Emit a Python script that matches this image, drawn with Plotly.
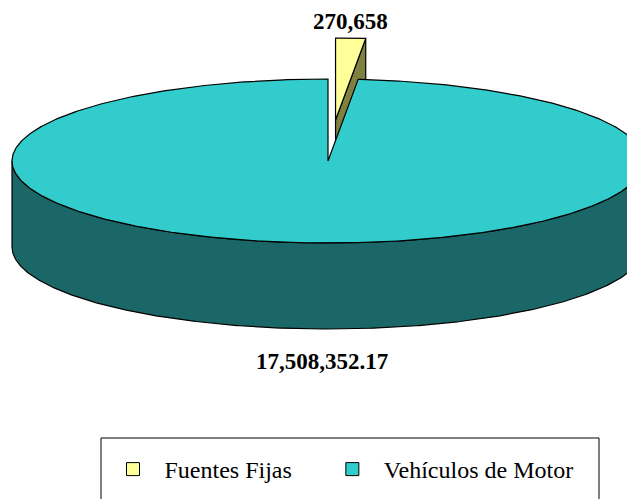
import numpy as np
import plotly.graph_objects as go

# ---- data ----
labels = ["Fuentes Fijas", "Vehículos de Motor"]
values = [270658, 17508352.17]
value_text = ["270,658", "17,508,352.17"]
top_colors = ["#FFFF99", "#33CCCC"]
side_colors = ["#808040", "#1B6666"]
explode = [0.5, 0.0]

# ---- geometry (window pixel space; page body has an 8px margin) ----
WIN_W, WIN_H, PAD = 635, 499, 8
W, H = WIN_W - PAD, WIN_H - PAD
CX, CY, RX, RY, DEPTH = 328, 161, 316, 82, 86
SERIF = "Times New Roman, Liberation Serif, serif"

total = float(sum(values))
bounds = np.concatenate([[0.0], np.cumsum(values) / total * 360.0])


def rim(theta, ox, oy, dz=0.0):
    t = np.radians(theta)
    return ox + CX + RX * np.sin(t), oy + CY - RY * np.cos(t) + dz


def arc(a0, a1, ox, oy, dz=0.0, n=None):
    n = n or max(4, int(abs(a1 - a0) * 2) + 2)
    th = np.linspace(a0, a1, n)
    return rim(th, ox, oy, dz)


fig = go.Figure()


def poly(xs, ys, color):
    fig.add_trace(go.Scatter(
        x=list(xs) + [xs[0]], y=list(ys) + [ys[0]], mode="lines",
        fill="toself", fillcolor=color,
        line=dict(color="black", width=1.2), hoverinfo="skip", showlegend=False))


slices = []
for i in range(len(values)):
    s, e = bounds[i], bounds[i + 1]
    m = (s + e) / 2
    ox = explode[i] * RX * np.sin(np.radians(m))
    oy = -explode[i] * RY * np.cos(np.radians(m))
    slices.append((np.cos(np.radians(m)), i, s, e, m, ox, oy))

# back slices first
slices.sort(key=lambda t: -t[0])

label_pos = {}
for _, i, s, e, m, ox, oy in slices:
    cx0, cy0 = CX + ox, CY + oy
    # radial faces that face the viewer
    for ang, visible in ((s, np.sin(np.radians(s)) < -1e-9),
                         (e, np.sin(np.radians(e)) > 1e-9)):
        if visible:
            rx_, ry_ = rim(ang, ox, oy)
            poly([cx0, rx_, rx_, cx0], [cy0, ry_, ry_ + DEPTH, cy0 + DEPTH], side_colors[i])
    # outer side (front part only)
    lo, hi = max(s, 90.0), min(e, 270.0)
    if hi > lo:
        tx, ty = arc(lo, hi, ox, oy)
        bx, by = arc(hi, lo, ox, oy, DEPTH)
        poly(np.concatenate([tx, bx]), np.concatenate([ty, by]), side_colors[i])
    # top face
    tx, ty = arc(s, e, ox, oy)
    poly(np.concatenate([[cx0], tx]), np.concatenate([[cy0], ty]), top_colors[i])
    # label
    lx = cx0 + RX * 0.4 * np.sin(np.radians(m))
    if np.cos(np.radians(m)) > 0:
        ly = cy0 - RY * np.cos(np.radians(m)) - 17
        lx += 9
    else:
        ly = cy0 - RY * np.cos(np.radians(m)) + DEPTH + 33
    label_pos[i] = (lx, ly)

for i in range(len(values)):
    lx, ly = label_pos[i]
    fig.add_annotation(x=lx, y=ly, text="<b>%s</b>" % value_text[i], showarrow=False,
                       font=dict(family=SERIF, size=23, color="black"),
                       xanchor="center", yanchor="middle", borderpad=0)

# legend entries
for i in range(len(values)):
    fig.add_trace(go.Scatter(
        x=[None], y=[None], mode="markers",
        name=labels[i] + ("&nbsp;" * 4 if i < len(values) - 1 else ""),
        marker=dict(symbol="square", size=13, color=top_colors[i],
                    line=dict(color="black", width=1)),
        showlegend=True))

# legend frame
fig.add_shape(type="rect", x0=101, x1=599, y0=438, y1=530,
              line=dict(color="black", width=1), fillcolor="rgba(0,0,0,0)", layer="below")

ITEMW = 53
fig.update_layout(
    width=W, height=H,
    margin=dict(l=0, r=0, t=0, b=0, autoexpand=False),
    paper_bgcolor="white", plot_bgcolor="white",
    xaxis=dict(range=[PAD, WIN_W], visible=False, fixedrange=True),
    yaxis=dict(range=[WIN_H, PAD], visible=False, fixedrange=True),
    legend=dict(orientation="h", x=(132 - (ITEMW / 2 + 4) - PAD) / W, xanchor="left",
                y=1 - (468 - 21 - PAD) / H, yanchor="top",
                itemwidth=ITEMW,
                font=dict(family=SERIF, size=24, color="black"),
                bgcolor="rgba(0,0,0,0)", borderwidth=0),
    showlegend=True,
)

fig.write_html("out.html")
